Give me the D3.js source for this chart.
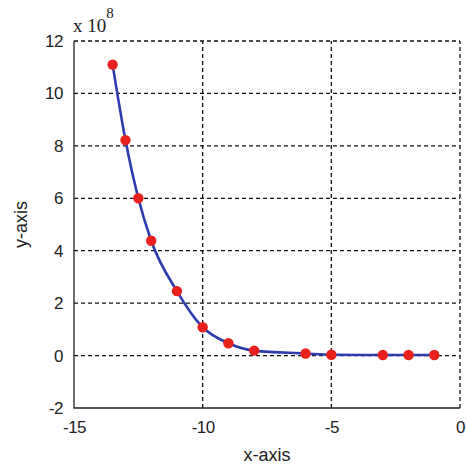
<!DOCTYPE html>
<html><head><meta charset="utf-8">
<script src="https://cdn.jsdelivr.net/npm/d3@7"></script>
<style>
html,body{margin:0;padding:0;background:#fff;}
svg{display:block;}
.tick text{font-family:"Liberation Sans Narrow","Liberation Sans",Arial,sans-serif;font-size:17px;fill:#222;letter-spacing:-0.5px;}
</style></head>
<body>
<svg id="chart" width="467" height="471"></svg>
<script>
const xValues = [-13.5, -13, -12.5, -12, -11, -10, -9, -8, -6, -5, -3, -2, -1];
const yValues = [11.1, 8.22, 6.0, 4.38, 2.46, 1.08, 0.47, 0.19, 0.08, 0.03, 0.02, 0.02, 0.02];
const xTicks = [-15, -10, -5, 0];
const yTicks = [-2, 0, 2, 4, 6, 8, 10, 12];
const xLabel = "x-axis";
const yLabel = "y-axis";
const exponent = "8";

const svg = d3.select("#chart");
const L = 74, R = 460, T = 41, B = 408;
const x = d3.scaleLinear().domain([-15, 0]).range([L, R]);
const y = d3.scaleLinear().domain([-2, 12]).range([B, T]);

// grid
const grid = svg.append("g").attr("stroke", "#111").attr("stroke-width", 1.3).attr("stroke-dasharray", "4,3");
grid.selectAll(".gx").data(xTicks.filter(d => d > -15)).enter().append("line")
  .attr("x1", d => x(d)).attr("x2", d => x(d)).attr("y1", B).attr("y2", T);
grid.selectAll(".gy").data(yTicks.filter(d => d > -2)).enter().append("line")
  .attr("y1", d => y(d)).attr("y2", d => y(d)).attr("x1", L).attr("x2", R);

// axes
const fmt = d => String(d);
const xAxis = d3.axisBottom(x).tickValues(xTicks).tickSize(0).tickPadding(13).tickFormat(fmt);
const yAxis = d3.axisLeft(y).tickValues(yTicks).tickSize(0).tickPadding(11).tickFormat(fmt);
const gx = svg.append("g").attr("transform", `translate(0,${B})`).call(xAxis);
const gy = svg.append("g").attr("transform", `translate(${L},0)`).call(yAxis);
gx.select(".domain").remove();
gy.select(".domain").remove();
gx.selectAll("text").attr("dy", "0.71em");
svg.append("path").attr("d", `M${L},${T}V${B}H${R}`).attr("fill", "none").attr("stroke", "#222").attr("stroke-width", 1.3);

// line
const pts = xValues.map((v, i) => [v, yValues[i]]);
const line = d3.line().x(d => x(d[0])).y(d => y(d[1])).curve(d3.curveMonotoneX);
svg.append("path").datum(pts).attr("d", line).attr("fill", "none").attr("stroke", "#2c3cae").attr("stroke-width", 2.6);

// markers
svg.selectAll(".pt").data(pts).enter().append("circle")
  .attr("cx", d => x(d[0])).attr("cy", d => y(d[1])).attr("r", 5.2).attr("fill", "#e8211c");

// labels
svg.append("text").attr("x", (L + R) / 2).attr("y", 461).attr("text-anchor", "middle")
  .attr("font-family", "Liberation Sans Narrow, Liberation Sans, Arial, sans-serif").attr("font-size", 18).attr("fill", "#222").text(xLabel);
svg.append("text").attr("transform", `translate(27,${(T + B) / 2}) rotate(-90)`).attr("text-anchor", "middle")
  .attr("font-family", "Liberation Sans Narrow, Liberation Sans, Arial, sans-serif").attr("font-size", 18).attr("fill", "#222").text(yLabel);
const ex = svg.append("text").attr("x", 73).attr("y", 32)
  .attr("font-family", "Liberation Serif, Times New Roman, serif").attr("font-size", 19).attr("fill", "#222");
ex.append("tspan").text("x 10");
ex.append("tspan").attr("dy", -14).attr("font-size", 15).text(exponent);
</script>
</body></html>
